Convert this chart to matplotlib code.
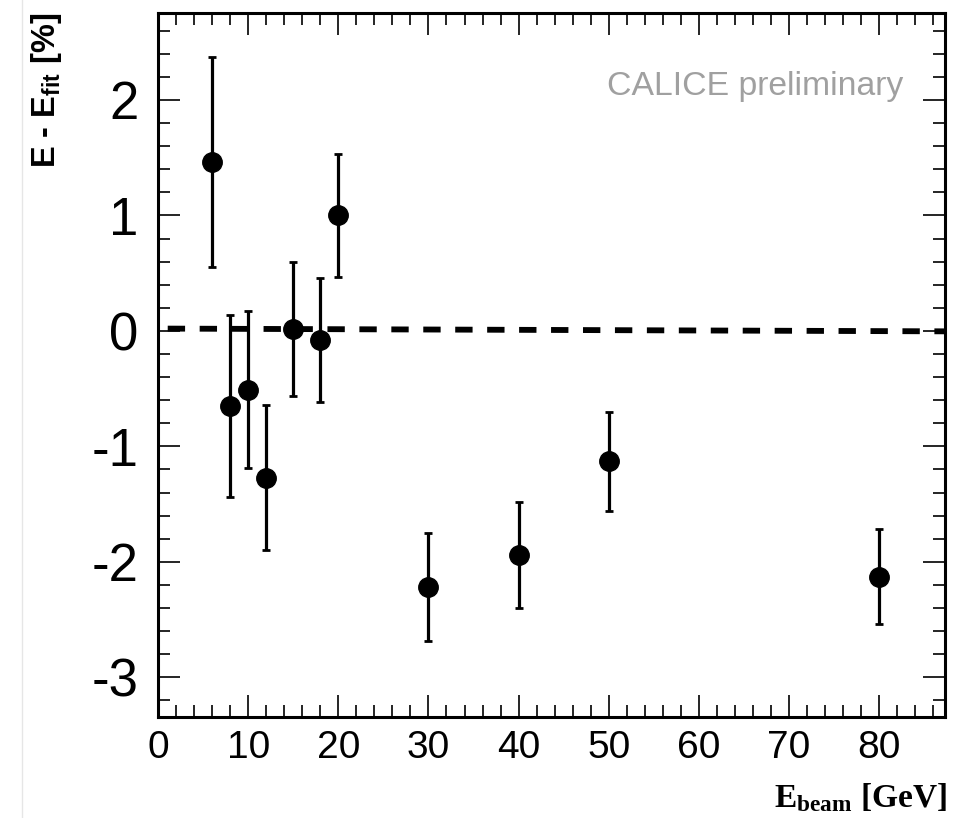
import matplotlib
matplotlib.use("Agg")
import matplotlib.pyplot as plt
from matplotlib.ticker import MultipleLocator
from matplotlib.lines import Line2D

plt.rcParams['font.family'] = ['Liberation Sans', 'DejaVu Sans']
plt.rcParams['mathtext.fontset'] = 'custom'
plt.rcParams['mathtext.sf'] = 'Liberation Sans:bold'
plt.rcParams['mathtext.bf'] = 'Liberation Serif:bold'
plt.rcParams['mathtext.rm'] = 'Liberation Sans'
plt.rcParams['lines.scale_dashes'] = False

# Data
ebeam = [6, 8, 10, 12, 15, 18, 20, 30, 40, 50, 80]
deviation = [1.46, -0.65, -0.51, -1.27, 0.02, -0.08, 1.00, -2.22, -1.94, -1.13, -2.13]
error = [0.91, 0.79, 0.68, 0.63, 0.58, 0.54, 0.53, 0.47, 0.46, 0.43, 0.41]
fit_x = [0.0, 87.3]
fit_y = [0.02, -0.004]

xticks = [0, 10, 20, 30, 40, 50, 60, 70, 80]
yticks = [-3, -2, -1, 0, 1, 2]

fig = plt.figure(figsize=(9.71, 8.18), dpi=100)
ax = fig.add_axes([158/971, 1-717/818, (945-158)/971, (717-13)/818])

ax.plot(fit_x, fit_y, color='black', lw=4.2, linestyle=(16, (12.5, 10.5)),
        dash_capstyle='butt', zorder=2)

ax.errorbar(ebeam, deviation, yerr=error, fmt='o', color='black', ms=14,
            elinewidth=2.3, capsize=2.6, capthick=2.0, zorder=3)

ax.set_xlim(0, 87.3)
ax.set_ylim(-3.344, 2.753)
ax.set_xticks(xticks)
ax.set_yticks(yticks)
ax.set_xticklabels([str(v) for v in xticks])
ax.set_yticklabels([str(v) for v in yticks])
ax.xaxis.set_minor_locator(MultipleLocator(2))
ax.yaxis.set_minor_locator(MultipleLocator(0.2))

ax.tick_params(axis='both', which='both', direction='in', top=True, right=True,
               width=1.2, color='black')
ax.tick_params(axis='both', which='major', length=16)
ax.tick_params(axis='both', which='minor', length=8.5)
ax.tick_params(axis='y', which='major', labelsize=38, pad=14)
ax.tick_params(axis='x', which='major', labelsize=28, pad=9)

for s in ax.spines.values():
    s.set_linewidth(2.2)

fig.text(47/971, 1-13/818, r'E - E$_{\mathsf{fit}}$ [%]', rotation=90,
         ha='center', va='top', fontsize=23.5, fontweight='bold')
fig.text(947/971, 1-807/818, r'$\mathbf{E_{beam}}$ [GeV]', ha='right',
         va='baseline', fontsize=24, fontweight='bold', family='Liberation Serif')
fig.text(607/971, 1-95/818, 'CALICE preliminary', ha='left', va='baseline',
         fontsize=24.3, color='#a0a0a0')

fig.add_artist(Line2D([22/971, 22/971], [0, 1], color='#e6e6e6', lw=1,
                      transform=fig.transFigure))

fig.savefig('out.png', dpi=100)
